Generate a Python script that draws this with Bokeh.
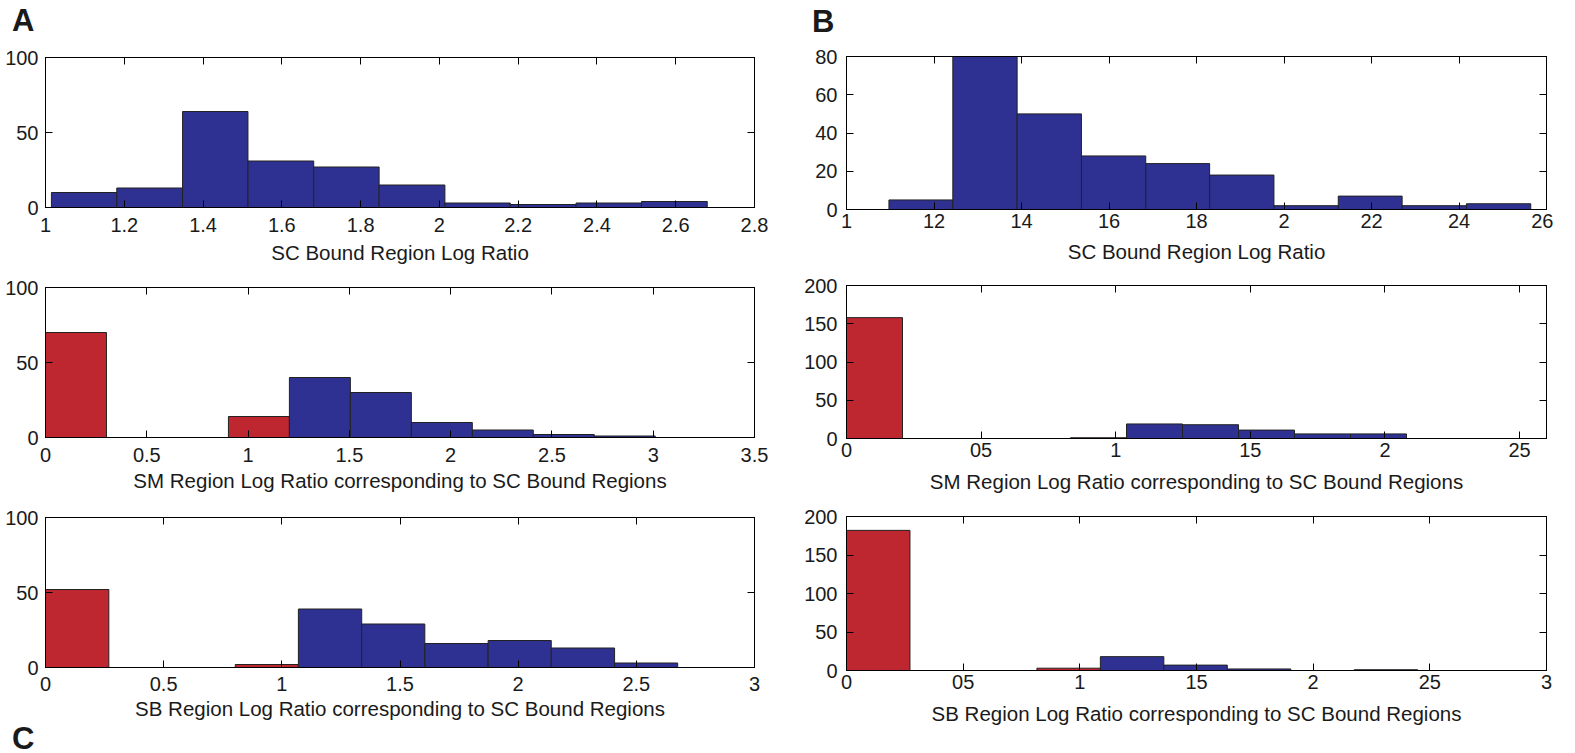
from bokeh.plotting import figure
from bokeh.layouts import row, column
from bokeh.models import Range1d, LinearAxis, FixedTicker, Div, ColumnDataSource
from bokeh.embed import file_html
from bokeh.resources import INLINE

BLUE = "#2E3192"
RED = "#BE2630"
FONT = "Liberation Sans"
TXT = "#1a1a1a"

# ---- Panel A ----
a1_edges = [1.015, 1.181, 1.348, 1.514, 1.681, 1.847, 2.014, 2.180, 2.347, 2.513, 2.680]
a1_counts = [10, 13, 64, 31, 27, 15, 3, 2, 3, 4]
a1_xticks = [1, 1.2, 1.4, 1.6, 1.8, 2, 2.2, 2.4, 2.6, 2.8]
a1_xlabels = ["1", "1.2", "1.4", "1.6", "1.8", "2", "2.2", "2.4", "2.6", "2.8"]
a1_yticks = [0, 50, 100]

a2_edges = [0, 0.301, 0.602, 0.903, 1.204, 1.505, 1.806, 2.107, 2.408, 2.709, 3.010]
a2_counts = [70, 0, 0, 14, 40, 30, 10, 5, 2, 1]
a2_xticks = [0, 0.5, 1, 1.5, 2, 2.5, 3, 3.5]
a2_xlabels = ["0", "0.5", "1", "1.5", "2", "2.5", "3", "3.5"]
a2_yticks = [0, 50, 100]

a3_edges = [0, 0.268, 0.535, 0.803, 1.070, 1.338, 1.605, 1.873, 2.140, 2.408, 2.675]
a3_counts = [52, 0, 0, 2, 39, 29, 16, 18, 13, 3]
a3_xticks = [0, 0.5, 1, 1.5, 2, 2.5, 3]
a3_xlabels = ["0", "0.5", "1", "1.5", "2", "2.5", "3"]
a3_yticks = [0, 50, 100]

# ---- Panel B ----
b1_edges = [1.097, 1.243, 1.390, 1.537, 1.684, 1.830, 1.977, 2.124, 2.270, 2.417, 2.564]
b1_counts = [5, 80, 50, 28, 24, 18, 2, 7, 2, 3]
b1_xticks = [1, 1.2, 1.4, 1.6, 1.8, 2, 2.2, 2.4, 2.6]
b1_xlabels = ["1", "12", "14", "16", "18", "2", "22", "24", "26"]
b1_yticks = [0, 20, 40, 60, 80]

b2_edges = [0, 0.208, 0.416, 0.624, 0.832, 1.040, 1.248, 1.456, 1.664, 1.872, 2.080]
b2_counts = [158, 0, 0, 0, 1, 19, 18, 11, 6, 6]
b2_xticks = [0, 0.5, 1, 1.5, 2, 2.5]
b2_xlabels = ["0", "05", "1", "15", "2", "25"]
b2_yticks = [0, 50, 100, 150, 200]

b3_edges = [0, 0.272, 0.544, 0.816, 1.088, 1.360, 1.632, 1.904, 2.176, 2.448, 2.720]
b3_counts = [182, 0, 0, 3, 18, 7, 2, 0, 1, 0]
b3_xticks = [0, 0.5, 1, 1.5, 2, 2.5, 3]
b3_xlabels = ["0", "05", "1", "15", "2", "25", "3"]
b3_yticks = [0, 50, 100, 150, 200]

SC = "SC Bound Region Log Ratio"
SM = "SM Region Log Ratio corresponding to SC Bound Regions"
SB = "SB Region Log Ratio corresponding to SC Bound Regions"


def style_axis(ax, ticks, labels=None, show_labels=True, standoff=5):
    ax.ticker = FixedTicker(ticks=ticks)
    if labels is not None:
        ax.major_label_overrides = {t: l for t, l in zip(ticks, labels)}
    ax.major_tick_in = 7
    ax.major_tick_out = 0
    ax.minor_tick_line_color = None
    ax.axis_line_color = "black"
    ax.axis_line_width = 1
    ax.major_tick_line_color = "black"
    ax.major_label_text_font = FONT
    if show_labels:
        ax.major_label_text_color = TXT
        ax.major_label_text_font_size = "20px"
        ax.major_label_standoff = standoff
    else:
        ax.major_label_text_color = None
        ax.major_label_text_font_size = "1px"
        ax.major_label_standoff = 0


def make(edges, counts, red_mask, xr, yr, xticks, xlabels, yticks, xlabel,
         fw, fh, bl, br, bt, bb, xstand, ystand, lstand):
    p = figure(x_range=Range1d(*xr), y_range=Range1d(*yr),
               frame_width=fw, frame_height=fh,
               min_border_left=bl, min_border_right=br,
               min_border_top=bt, min_border_bottom=bb,
               output_backend="svg", toolbar_location=None, tools="")
    p.xgrid.visible = False
    p.ygrid.visible = False
    p.outline_line_color = "black"
    p.background_fill_color = "white"
    p.border_fill_color = "white"
    colors = [RED if m else BLUE for m in red_mask]
    src = ColumnDataSource(dict(left=edges[:-1], right=edges[1:],
                                top=counts, bottom=[0] * len(counts),
                                color=colors))
    p.quad(left="left", right="right", top="top", bottom="bottom", source=src,
           fill_color="color", line_color="#222222", line_width=1)
    style_axis(p.xaxis[0], xticks, xlabels, standoff=xstand)
    style_axis(p.yaxis[0], yticks, standoff=ystand)
    p.xaxis[0].axis_label = xlabel
    p.xaxis[0].axis_label_text_font = FONT
    p.xaxis[0].axis_label_text_font_size = "20.5px"
    p.xaxis[0].axis_label_text_font_style = "normal"
    p.xaxis[0].axis_label_text_color = TXT
    p.xaxis[0].axis_label_standoff = lstand
    top_ax = LinearAxis()
    style_axis(top_ax, xticks, show_labels=False)
    p.add_layout(top_ax, "above")
    right_ax = LinearAxis()
    style_axis(right_ax, yticks, show_labels=False)
    p.add_layout(right_ax, "right")
    return p


def letter(text, w, h, pad_top, pad_left, line_h):
    html = ('<div style="padding:%dpx 0 0 %dpx; font-family:\'Liberation Sans\', Arial, sans-serif;'
            ' font-weight:bold; font-size:31px; line-height:%dpx; color:%s; white-space:nowrap;">%s</div>'
            % (pad_top, pad_left, line_h, TXT, text))
    return Div(text=html, width=w, height=h, margin=(0, 0, 0, 0))


red_first = [True] * 4 + [False] * 6
red_first5 = [True] * 5 + [False] * 5
no_red = [False] * 10

a1 = make(a1_edges, a1_counts, no_red, (1, 2.8), (0, 100), a1_xticks, a1_xlabels,
          a1_yticks, SC, 709, 150, 45, 47, 15, 60, 10, 7, 6)
a2 = make(a2_edges, a2_counts, red_first, (0, 3.5), (0, 100), a2_xticks, a2_xlabels,
          a2_yticks, SM, 709, 150, 45, 47, 20, 60, 10, 7, 4)
a3 = make(a3_edges, a3_counts, red_first, (0, 3), (0, 100), a3_xticks, a3_xlabels,
          a3_yticks, SB, 709, 150, 45, 47, 20, 60, 9, 7, 3)

b1 = make(b1_edges, b1_counts, no_red, (1, 2.6), (0, 80), b1_xticks, b1_xlabels,
          b1_yticks, SC, 700, 153, 40, 12, 14, 60, 4, 9, 9)
b2 = make(b2_edges, b2_counts, red_first5, (0, 2.6), (0, 200), b2_xticks, b2_xlabels,
          b2_yticks, SM, 700, 153, 40, 12, 16, 60, 4, 9, 10)
b3 = make(b3_edges, b3_counts, red_first, (0, 3), (0, 200), b3_xticks, b3_xlabels,
          b3_yticks, SB, 700, 154, 40, 12, 18, 60, 4, 9, 10)

div_a = letter("A", 801, 42, 5, 12, 31)
div_b = letter("B", 752, 42, 6, 11, 31)
div_c = letter("C", 801, 25, 0, 12, 23)

layout = column(
    row(div_a, div_b, spacing=0),
    row(column(a1, a2, a3, div_c, spacing=0), column(b1, b2, b3, spacing=0), spacing=0),
    spacing=0,
)

open("out.html", "w").write(file_html(layout, INLINE))
